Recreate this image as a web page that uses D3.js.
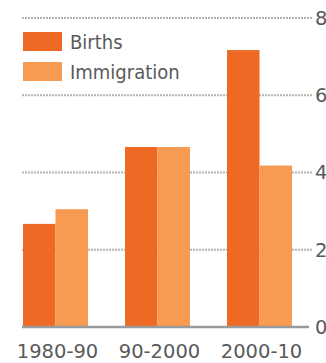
<!DOCTYPE html>
<html>
<head>
<meta charset="utf-8">
<script src="https://cdn.jsdelivr.net/npm/d3@7"></script>
<style>
  html, body { margin: 0; padding: 0; background: #fff; overflow: hidden; }
  svg { display: block; }
  text { font-family: "DejaVu Sans Condensed", "DejaVu Sans", sans-serif; fill: #5a5a5a; }
  .num text { font-family: "DejaVu Sans", sans-serif; }
</style>
</head>
<body>
<script>
// Population growth sources by decade (millions)
const categories = ["1980-90", "90-2000", "2000-10"];
const seriesNames = ["Births", "Immigration"];
const births = [2.67, 4.66, 7.17];
const immigration = [3.05, 4.66, 4.18];
const yTicks = [0, 2, 4, 6, 8];
const colors = ["#ee6a24", "#f79a52"];

const W = 326, H = 363;
const svg = d3.select("body").append("svg").attr("width", W).attr("height", H);

const y = d3.scaleLinear().domain([0, 8]).range([327, 18]);
const x = d3.scaleBand().domain(categories).range([23, 292]).paddingInner(0.363).paddingOuter(0);
const xs = d3.scaleBand().domain(seriesNames).range([0, x.bandwidth()]);

// dotted gridlines
svg.append("g").selectAll("line").data(yTicks.filter(d => d > 0)).join("line")
  .attr("x1", 22).attr("x2", 312)
  .attr("y1", d => y(d)).attr("y2", d => y(d))
  .attr("stroke", "#b4b4b4").attr("stroke-width", 2)
  .attr("stroke-dasharray", "2,1");

// bars
const rows = categories.map((c, i) => ({ c, vals: [births[i], immigration[i]] }));
const groups = svg.append("g").selectAll("g").data(rows).join("g")
  .attr("transform", d => `translate(${x(d.c)},0)`);
groups.selectAll("rect").data(d => d.vals.map((v, j) => ({ v, s: seriesNames[j], j }))).join("rect")
  .attr("x", d => xs(d.s)).attr("width", xs.bandwidth())
  .attr("y", d => y(d.v)).attr("height", d => y(0) - y(d.v))
  .attr("fill", d => colors[d.j]);

// baseline
svg.append("line").attr("x1", 22).attr("x2", 309).attr("y1", y(0)).attr("y2", y(0))
  .attr("stroke", "#9a9a9a").attr("stroke-width", 2.5);

// right-hand value axis
const yAxis = d3.axisRight(y).tickValues(yTicks).tickSize(0).tickPadding(0).tickFormat(d3.format("d"));
const ga = svg.append("g").attr("class", "num").attr("transform", "translate(315,0)").call(yAxis);
ga.select(".domain").remove();
ga.selectAll("text").attr("font-size", 19.5).style("font-family", null).attr("fill", null);

// category axis
const xAxis = d3.axisBottom(x).tickSize(0).tickPadding(0);
const gx = svg.append("g").attr("class", "num").attr("transform", "translate(2,344)").call(xAxis);
gx.select(".domain").remove();
gx.selectAll("text").attr("font-size", 19.5).attr("dy", "0.71em").style("font-family", null).attr("fill", null);

// legend
const lg = svg.append("g").selectAll("g").data(seriesNames).join("g")
  .attr("transform", (d, i) => `translate(23,${32 + i * 30})`);
lg.append("rect").attr("width", 39).attr("height", 19).attr("fill", (d, i) => colors[i]);
lg.append("text").attr("x", 47).attr("y", 9.5).attr("dy", "0.36em").attr("font-size", 20).text(d => d);
</script>
</body>
</html>
